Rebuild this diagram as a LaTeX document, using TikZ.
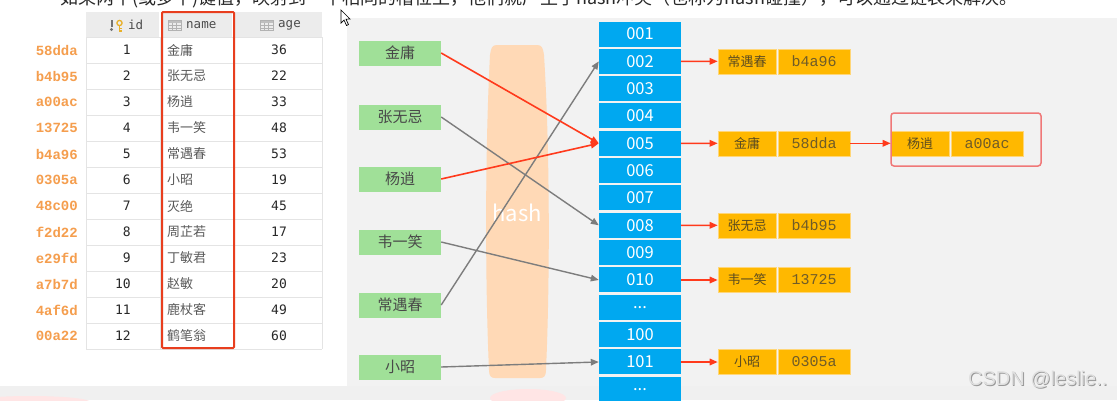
\documentclass[tikz,border=0pt]{standalone}
\usepackage{fontspec}
\setmainfont{Liberation Sans}
\newfontfamily\cjk{Noto Sans CJK SC}
\newfontfamily\dmono{DejaVu Sans Mono}
\newfontfamily\lmono{Liberation Mono}
\usetikzlibrary{arrows.meta}
\newcommand\myfs[1]{\fontsize{#1}{#1}\selectfont}
\newcommand\mydots{...}
\definecolor{panelbg}{RGB}{242,242,242}
\definecolor{hdrbg}{RGB}{236,236,236}
\definecolor{gridc}{RGB}{228,228,228}
\definecolor{hashor}{RGB}{245,158,78}
\definecolor{tblred}{RGB}{232,62,30}
\definecolor{gbox}{RGB}{160,224,152}
\definecolor{bcell}{RGB}{0,168,240}
\definecolor{obox}{RGB}{255,184,0}
\definecolor{oboxline}{RGB}{255,214,120}
\definecolor{otext}{RGB}{92,76,32}
\definecolor{ocode}{RGB}{112,92,40}
\definecolor{peach}{RGB}{255,217,182}
\definecolor{arrred}{RGB}{255,58,28}
\definecolor{arrgray}{RGB}{125,125,125}
\definecolor{chainred}{RGB}{240,120,120}
\definecolor{keygold}{RGB}{232,176,40}
\definecolor{txtdark}{RGB}{40,40,40}
\tikzset{
  greenbox/.style={fill=gbox, minimum width=82pt, minimum height=25pt, inner sep=0pt,
    font=\cjk\myfs{15}, text=txtdark!85},
  bluecell/.style={fill=bcell, minimum width=82pt, minimum height=25pt, inner sep=0pt,
    font=\cjk\myfs{16.5}, text=white},
  oname/.style={fill=obox, draw=oboxline, line width=0.6pt, minimum width=58pt, minimum height=25pt,
    inner sep=0pt, font=\cjk\myfs{13}, text=otext},
  ocodebox/.style={fill=obox, draw=oboxline, line width=0.6pt, minimum width=72pt, minimum height=25pt,
    inner sep=0pt, font=\lmono\myfs{15}, text=ocode},
  redarrow/.style={draw=arrred, line width=1.6pt, -{Triangle[length=8pt,width=6.5pt]}},
  grayarrow/.style={draw=arrgray, line width=1.4pt, -{Triangle[length=8pt,width=6.5pt]}},
  hashcode/.style={anchor=east, inner sep=0pt, font=\lmono\bfseries\myfs{14}, text=hashor},
  idnum/.style={anchor=east, inner sep=0pt, font=\dmono\myfs{13}, text=txtdark},
  agenum/.style={inner sep=0pt, font=\dmono\myfs{13}, text=txtdark},
  namecell/.style={anchor=west, inner sep=0pt, font=\cjk\myfs{13}, text=black!65},
  hdrtext/.style={anchor=west, inner sep=0pt, font=\dmono\myfs{12.5}, text=black!70},
}
\begin{document}
\begin{tikzpicture}[x=1pt,y=-1pt]
\useasboundingbox (0,0) rectangle (1117,400);
\fill[white] (0,0) rectangle (1117,400);
% top caption (cut off at the top edge, as in the reference)
\node[anchor=base west, inner sep=0pt, font=\cjk\myfs{18}, text=txtdark] (caption) at (60,4)
  {如果两个(或多个)键值，映射到一个相同的槽位上，他们就产生了hash冲突（也称为hash碰撞），可以通过链表来解决。};
% right panel
\fill[panelbg] (347,18) rectangle (1117,386);
\fill[black!6] (0,386) rectangle (1117,400);
\fill[pink!40] (528,398) ellipse (38pt and 9pt);
\fill[pink!40] (30,402) ellipse (60pt and 6pt);
% table
\fill[hdrbg] (86,12) rectangle (322,37);
\draw[white, line width=1.2pt] (160,12) -- (160,37) (233,12) -- (233,37);
\foreach \r in {0,...,12} {
  \draw[gridc, line width=0.8pt] (86,{37+26*\r}) -- (322,{37+26*\r});
}
\draw[gridc, line width=0.8pt] (86,37) -- (86,349) (160,37) -- (160,349) (233,37) -- (233,349) (322,37) -- (322,349);
% header icons
\fill[black!55] (110.5,20) rectangle (112.5,26.5);
\fill[black!55] (111.5,29.5) circle (1.7pt);
\draw[keygold, line width=1.3pt] (119.5,23) circle (2.6pt);
\draw[keygold, line width=1.3pt] (119.5,25.8) -- (119.5,31.5) (119.5,28.5) -- (121.8,28.5) (119.5,31) -- (121.8,31);
\node[hdrtext] (hid) at (128,25) {id};
\foreach \xx/\nm/\lab in {168/hname/name, 260/hage/age} {
  \fill[black!25] (\xx,20) rectangle ({\xx+13},22.5);
  \draw[black!30, line width=0.7pt] (\xx,20) rectangle ({\xx+13},30.5);
  \draw[black!30, line width=0.6pt] ({\xx+4.3},22.5) -- ({\xx+4.3},30.5) ({\xx+8.7},22.5) -- ({\xx+8.7},30.5)
     (\xx,25.2) -- ({\xx+13},25.2) (\xx,27.9) -- ({\xx+13},27.9);
  \node[hdrtext] (\nm) at ({\xx+18},25) {\lab};
}
\foreach \i/\h/\n/\a in {1/58dda/金庸/36, 2/b4b95/张无忌/22, 3/a00ac/杨逍/33, 4/13725/韦一笑/48,
   5/b4a96/常遇春/53, 6/0305a/小昭/19, 7/48c00/灭绝/45, 8/f2d22/周芷若/17,
   9/e29fd/丁敏君/23, 10/a7b7d/赵敏/20, 11/4af6d/鹿杖客/49, 12/00a22/鹤笔翁/60} {
  \node[hashcode] (hk\i) at (78,{50+26*(\i-1)}) {\h};
  \node[idnum] (id\i) at (131,{50+26*(\i-1)}) {\i};
  \node[namecell] (nm\i) at (167,{50+26*(\i-1)}) {\n};
  \node[agenum] (ag\i) at (279,{50+26*(\i-1)}) {\a};
}
\draw[tblred, line width=2pt, rounded corners=1pt] (162,12) rectangle (234,348);
% hash barrel
\fill[peach] (497,45) -- (537,45) .. controls (542,45) and (543,48) .. (544,55)
  .. controls (550,150) and (550,280) .. (546,370) .. controls (546,376) and (544,378) .. (540,378)
  -- (495,378) .. controls (491,378) and (489,376) .. (489,370)
  .. controls (485,280) and (485,150) .. (490,55) .. controls (491,48) and (492,45) .. (497,45) -- cycle;
\node[font=\cjk\myfs{22}, text=white, inner sep=0pt] (hash) at (517,213) {hash};
% green boxes
\node[greenbox] (g1) at (400,53) {金庸};
\node[greenbox] (g2) at (400,117) {张无忌};
\node[greenbox] (g3) at (400,179) {杨逍};
\node[greenbox] (g4) at (400,242) {韦一笑};
\node[greenbox] (g5) at (400,305) {常遇春};
\node[greenbox] (g6) at (400,367) {小昭};
% blue cells
\foreach \l [count=\i] in {001,002,003,004,005,006,007,008,009,010,\mydots,100,101,\mydots} {
  \node[bluecell] (b\i) at (640,{34+27.33*(\i-1)}) {\l};
}
% orange boxes
\node[oname] (on1) at (747,61.3) {常遇春};
\node[ocodebox] (oc1) at (814,61.3) {b4a96};
\node[oname] (on2) at (747,143.3) {金庸};
\node[ocodebox] (oc2) at (814,143.3) {58dda};
\node[oname] (on3) at (747,225.3) {张无忌};
\node[ocodebox] (oc3) at (814,225.3) {b4b95};
\node[oname] (on4) at (747,280) {韦一笑};
\node[ocodebox] (oc4) at (814,280) {13725};
\node[oname] (on5) at (747,362) {小昭};
\node[ocodebox] (oc5) at (814,362) {0305a};
\node[oname] (on6) at (920,143.3) {杨逍};
\node[ocodebox] (oc6) at (987,143.3) {a00ac};
\draw[chainred, line width=1.5pt, rounded corners=3pt] (891,113) rectangle (1041,166);
% arrows from green to blue
\draw[grayarrow] (g2.east) -- (b8.west);
\draw[grayarrow] (g4.east) -- (b10.west);
\draw[grayarrow] (g5.east) -- (b2.west);
\draw[grayarrow] (g6.east) -- (b13.west);
\draw[redarrow] (g1.east) -- (b5.west);
\draw[redarrow] (g3.east) -- (b5.west);
% arrows from blue to orange
\draw[redarrow] (b2.east) -- (on1.west);
\draw[redarrow] (b5.east) -- (on2.west);
\draw[redarrow] (b8.east) -- (on3.west);
\draw[redarrow] (b10.east) -- (on4.west);
\draw[redarrow] (b13.east) -- (on5.west);
\draw[redarrow] (oc2.east) -- (on6.west);
% watermark
\node[anchor=west, inner sep=0pt, font=\myfs{20}, text=black!40] (wmshadow) at (969,381) {CSDN @leslie..};
\node[anchor=west, inner sep=0pt, font=\myfs{20}, text=black!12] (wm) at (968,380) {CSDN @leslie..};
% mouse cursor
\draw[black, line width=0.7pt, fill=white] (341,10) -- (341,23) -- (344,20) -- (346.5,25.5) -- (348.5,24.6) -- (346,19.2) -- (350,19) -- cycle;
\end{tikzpicture}
\end{document}
